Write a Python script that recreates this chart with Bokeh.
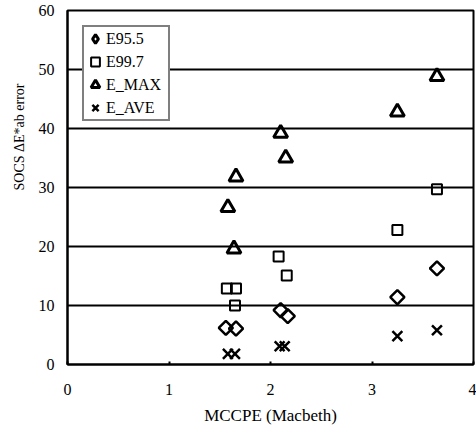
import math
from bokeh.plotting import figure
from bokeh.models import Range1d, FixedTicker, Title, Legend, LegendItem
from bokeh.embed import file_html
from bokeh.resources import INLINE

# ---- data ----
x_ticks = [0, 1, 2, 3, 4]
y_ticks = [0, 10, 20, 30, 40, 50, 60]

e955_x = [1.56, 1.66, 2.10, 2.17, 3.25, 3.64]
e955_y = [6.2, 6.1, 9.2, 8.2, 11.4, 16.3]

e997_x = [1.57, 1.66, 1.65, 2.08, 2.16, 3.25, 3.64]
e997_y = [12.9, 12.9, 10.0, 18.3, 15.1, 22.8, 29.7]

emax_x = [1.58, 1.64, 1.66, 2.10, 2.15, 3.25, 3.64]
emax_y = [26.6, 19.6, 31.8, 39.2, 35.0, 42.8, 48.8]

eave_x = [1.58, 1.65, 2.09, 2.14, 3.25, 3.64]
eave_y = [1.8, 1.8, 3.1, 3.1, 4.8, 5.8]

FONT = "Liberation Serif"

p = figure(width=476, height=429, output_backend="svg", toolbar_location=None,
           x_range=Range1d(0, 4), y_range=Range1d(0, 60),
           min_border_left=66, min_border_right=3,
           min_border_top=10, min_border_bottom=65)
p.background_fill_color = "white"
p.border_fill_color = "white"
p.outline_line_color = "black"
p.outline_line_width = 2
# a range outside the frame, used only by the legend key for the diamond series
p.extra_x_ranges = {"key": Range1d(100, 101)}

# markers
r955 = p.scatter(e955_x, e955_y, marker="square", angle=math.pi / 4, size=10,
                 line_color="black", line_width=2.5, fill_color=None)
r997 = p.scatter(e997_x, e997_y, marker="square", size=10,
                 line_color="black", line_width=2, fill_color=None)
rmax = p.scatter(emax_x, emax_y, marker="triangle", size=14,
                 line_color="black", line_width=3, fill_color=None)
rave = p.scatter(eave_x, eave_y, marker="x", size=14,
                 line_color="black", line_width=2.5)
r955_key = p.scatter(e955_x, e955_y, marker="diamond", size=10, x_range_name="key",
                     line_color="black", line_width=3, fill_color=None)

# axes
p.xaxis.ticker = FixedTicker(ticks=x_ticks)
p.yaxis.ticker = FixedTicker(ticks=y_ticks)
for ax in (p.xaxis[0], p.yaxis[0]):
    ax.axis_line_color = "black"
    ax.axis_line_width = 2
    ax.major_label_text_font = FONT
    ax.major_label_text_font_size = "16px"
    ax.major_label_text_color = "black"
    ax.minor_tick_line_color = None
    ax.major_tick_line_color = "black"
    ax.major_tick_line_width = 2

p.xaxis.major_tick_in = 3
p.xaxis.major_tick_out = 0
p.xaxis.major_label_standoff = 19
p.xaxis.axis_label = "MCCPE (Macbeth)"
p.xaxis.axis_label_text_font = FONT
p.xaxis.axis_label_text_font_size = "17px"
p.xaxis.axis_label_text_font_style = "normal"
p.xaxis.axis_label_text_color = "black"
p.xaxis.axis_label_standoff = 8

p.yaxis.major_tick_in = 0
p.yaxis.major_tick_out = 0
p.yaxis.major_label_standoff = 13

# y-axis title, set above the frame centre as in the original
p.add_layout(Title(text="SOCS ΔE*ab error", align="right", offset=73,
                   text_font=FONT, text_font_size="14px",
                   text_font_style="normal", text_color="black",
                   standoff=18), "left")

# grid
p.xgrid.visible = False
p.ygrid.grid_line_color = "black"
p.ygrid.grid_line_width = 2

# legend
lg = Legend(items=[LegendItem(label="E95.5", renderers=[r955_key]),
                   LegendItem(label="E99.7", renderers=[r997]),
                   LegendItem(label="E_MAX", renderers=[rmax]),
                   LegendItem(label="E_AVE", renderers=[rave])],
            location="top_left")
lg.margin = 15
lg.padding = 0
lg.spacing = 0
lg.label_height = 23
lg.glyph_height = 23
lg.glyph_width = 22
lg.label_standoff = 0
lg.label_width = 62
lg.label_text_font = FONT
lg.label_text_font_size = "16px"
lg.label_text_color = "black"
lg.border_line_color = "black"
lg.border_line_width = 2
lg.background_fill_color = "white"
lg.background_fill_alpha = 1.0
p.add_layout(lg)

open("out.html", "w").write(file_html(p, INLINE))
